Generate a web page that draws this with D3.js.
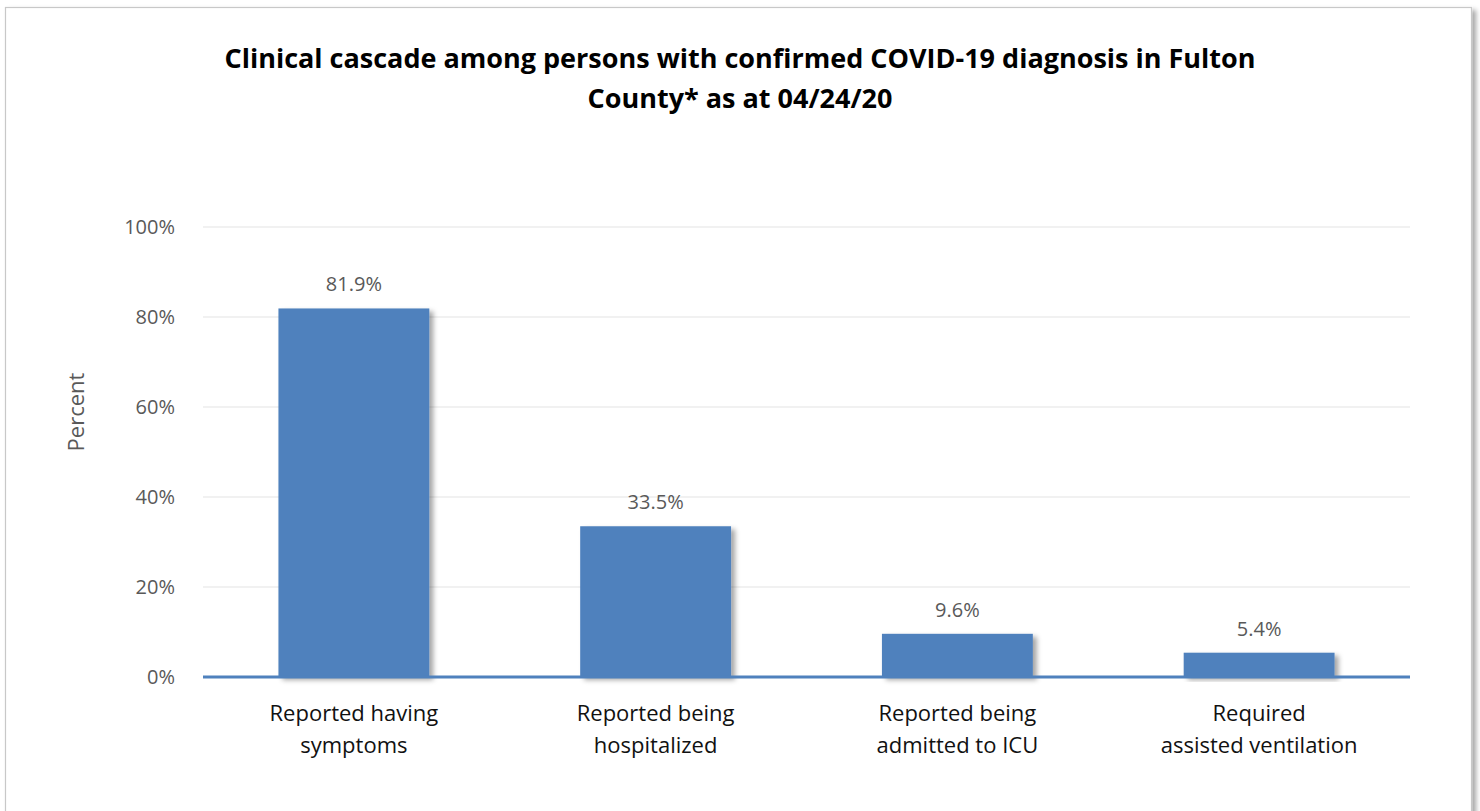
<!DOCTYPE html>
<html><head>
<meta charset="utf-8">
<title>Clinical cascade</title>
<script src="https://cdn.jsdelivr.net/npm/d3@7"></script>
<style>
  body { margin: 0; background: #fff; }
  svg { display: block; font-family: "Open Sans", "Noto Sans", sans-serif; }
</style>
</head>
<body>
<svg id="chart" width="1480" height="811"></svg>
<script>
// data
let categories = [["Reported having", "symptoms"], ["Reported being", "hospitalized"],
                  ["Reported being", "admitted to ICU"], ["Required", "assisted ventilation"]];
let values = [81.9, 33.5, 9.6, 5.4];
let yTicks = [0, 20, 40, 60, 80, 100];

let svg = d3.select("#chart");

// shadow filter for the bars and the frame
let defs = svg.append("defs");
let f = defs.append("filter").attr("id", "shadow").attr("x", "-10%").attr("y", "-10%")
    .attr("width", "130%").attr("height", "130%");
f.append("feDropShadow").attr("dx", 4).attr("dy", 3).attr("stdDeviation", 2.5)
    .attr("flood-color", "#000").attr("flood-opacity", 0.35);

// frame of the chart
svg.append("rect")
    .attr("x", 5.5).attr("y", 7.5).attr("width", 1466).attr("height", 830)
    .style("fill", "#fff").style("stroke", "#c8c8c8").style("stroke-width", 1.2)
    .attr("filter", "url(#shadow)");

let margin = { left: 203, right: 70, top: 227, bottom: 134 };
let x = d3.scaleBand().domain(d3.range(values.length))
    .range([margin.left, 1480 - margin.right]).paddingInner(0.5).paddingOuter(0.25);
let y = d3.scaleLinear().domain([0, 100]).range([811 - margin.bottom, margin.top]);

// gridlines
svg.append("g").selectAll("line").data(yTicks.slice(1)).join("line")
    .attr("x1", margin.left).attr("x2", 1480 - margin.right)
    .attr("y1", d => y(d)).attr("y2", d => y(d))
    .style("stroke", "#e3e3e3").style("stroke-width", 1);

// y axis labels
let yAxis = svg.append("g").attr("transform", "translate(" + (margin.left - 25) + ",0)")
    .call(d3.axisLeft(y).tickValues(yTicks).tickFormat(d => d + "%").tickSize(0));
yAxis.select(".domain").remove();
yAxis.selectAll("text").style("font-size", "20px").style("fill", "#595959")
    .style("font-family", "Open Sans, sans-serif");

svg.append("text")
    .attr("transform", "translate(84,412) rotate(-90)")
    .attr("text-anchor", "middle")
    .style("font-size", "22px").style("fill", "#595959")
    .text("Percent");

// bars
svg.append("g").selectAll("rect").data(values).join("rect")
    .attr("x", (d, i) => x(i)).attr("width", x.bandwidth())
    .attr("y", d => y(d)).attr("height", d => y(0) - y(d))
    .style("fill", "#4f81bd")
    .attr("filter", "url(#shadow)");

// baseline
svg.append("line")
    .attr("x1", margin.left).attr("x2", 1480 - margin.right)
    .attr("y1", y(0)).attr("y2", y(0))
    .style("stroke", "#4f81bd").style("stroke-width", 3);

// value labels
svg.append("g").selectAll("text").data(values).join("text")
    .attr("x", (d, i) => x(i) + x.bandwidth() / 2)
    .attr("y", d => y(d) - 17)
    .attr("text-anchor", "middle")
    .style("font-size", "20px").style("fill", "#595959")
    .text(d => d.toFixed(1) + "%");

// category labels
let cat = svg.append("g").selectAll("text").data(categories).join("text")
    .attr("text-anchor", "middle")
    .style("font-size", "22px").style("fill", "#111");
cat.each(function(d, i) {
  let t = d3.select(this);
  d.forEach(function(line, j) {
    t.append("tspan").attr("x", x(i) + x.bandwidth() / 2)
        .attr("y", y(0) + 44 + j * 32).text(line);
  });
});

// title
let title = svg.append("text").attr("text-anchor", "middle")
    .style("font-size", "27px").style("font-weight", "bold").style("fill", "#000");
title.append("tspan").attr("x", 740).attr("y", 68)
    .text("Clinical cascade among persons with confirmed COVID-19 diagnosis in Fulton");
title.append("tspan").attr("x", 740).attr("y", 108)
    .text("County* as at 04/24/20");
</script>
</body>
</html>
